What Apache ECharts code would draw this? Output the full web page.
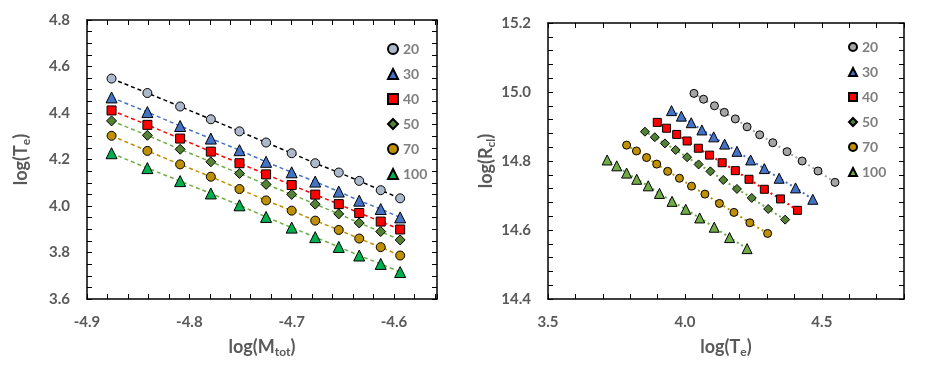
<!DOCTYPE html>
<html>
<head>
<meta charset="utf-8">
<script src="https://cdn.jsdelivr.net/npm/echarts@6/dist/echarts.min.js"></script>
<style>
html,body{margin:0;padding:0;background:#fff;}
#chart{width:926px;height:369px;}
</style>
</head>
<body>
<div id="chart"></div>
<script>
// ---- data ----
const seriesNames = ['20', '30', '40', '50', '70', '100'];
const logM = [-4.876, -4.841, -4.809, -4.779, -4.751, -4.725, -4.700, -4.677, -4.654, -4.634, -4.613, -4.594];

const logTe20  = [4.548, 4.486, 4.428, 4.373, 4.321, 4.273, 4.227, 4.184, 4.144, 4.108, 4.068, 4.033];
const logTe30  = [4.467, 4.404, 4.344, 4.290, 4.240, 4.190, 4.145, 4.105, 4.062, 4.023, 3.987, 3.951];
const logTe40  = [4.411, 4.349, 4.290, 4.234, 4.184, 4.136, 4.090, 4.049, 4.008, 3.970, 3.933, 3.899];
const logTe50  = [4.366, 4.304, 4.244, 4.190, 4.140, 4.093, 4.050, 4.008, 3.966, 3.927, 3.890, 3.854];
const logTe70  = [4.302, 4.237, 4.179, 4.126, 4.073, 4.024, 3.980, 3.937, 3.897, 3.860, 3.823, 3.787];
const logTe100 = [4.227, 4.163, 4.107, 4.054, 4.003, 3.953, 3.907, 3.866, 3.824, 3.787, 3.751, 3.716];

const logRcl20  = [14.738, 14.771, 14.800, 14.827, 14.853, 14.876, 14.899, 14.922, 14.941, 14.960, 14.979, 14.996];
const logRcl30  = [14.689, 14.722, 14.750, 14.778, 14.803, 14.828, 14.849, 14.870, 14.890, 14.911, 14.930, 14.946];
const logRcl40  = [14.657, 14.690, 14.718, 14.747, 14.772, 14.795, 14.817, 14.837, 14.858, 14.877, 14.895, 14.912];
const logRcl50  = [14.630, 14.661, 14.693, 14.719, 14.745, 14.770, 14.790, 14.811, 14.832, 14.851, 14.869, 14.885];
const logRcl70  = [14.590, 14.621, 14.651, 14.677, 14.704, 14.727, 14.750, 14.770, 14.791, 14.810, 14.829, 14.846];
const logRcl100 = [14.546, 14.578, 14.608, 14.635, 14.660, 14.683, 14.706, 14.728, 14.747, 14.765, 14.786, 14.803];

const logTeAll = [logTe20, logTe30, logTe40, logTe50, logTe70, logTe100];
const logRclAll = [logRcl20, logRcl30, logRcl40, logRcl50, logRcl70, logRcl100];

// ---- styles ----
const symbols = ['circle', 'triangle', 'rect', 'diamond', 'circle', 'triangle'];
const leftFill  = ['#ADB9CA', '#4472C4', '#FF0000', '#548235', '#BF9000', '#00B050'];
const leftLine  = ['#000000', '#4472C4', '#FF0000', '#70AD47', '#BF9000', '#70AD47'];
const rightFill = ['#A5A5A5', '#4472C4', '#FF0000', '#548235', '#BF9000', '#70AD47'];
const rightLine = ['#A5A5A5', '#4472C4', '#FF0000', '#70AD47', '#BF9000', '#70AD47'];
const leftSize  = [9, 11, 9, 10, 9, 11];
const rightSize = [8, 10, 8, 9, 8, 10];

const FONT = 'Lato, "Open Sans", sans-serif';
const GRAY = '#595959';

function isMult(v, step) {
  const r = v / step;
  return Math.abs(r - Math.round(r)) < 1e-6;
}
function lbl(step, dec) {
  return function (v) { return isMult(v, step) ? v.toFixed(dec) : ''; };
}

function frameAxes(gridIndex, kind, min, max, interval, labelStep, dec, name, nameGap) {
  const common = {
    type: 'value', gridIndex: gridIndex, min: min, max: max, interval: interval,
    splitLine: { show: false },
    axisLine: { show: true, onZero: false, lineStyle: { color: '#000', width: 1.5 } },
    axisTick: { show: true, inside: true, length: 5, lineStyle: { color: '#000', width: 1 } }
  };
  const main = Object.assign({}, common, {
    position: kind === 'x' ? 'bottom' : 'left',
    axisLabel: {
      show: true, formatter: lbl(labelStep, dec), color: GRAY, fontSize: 15,
      fontWeight: 'bold', fontFamily: FONT, margin: kind === 'x' ? 16 : 17,
      showMinLabel: true, showMaxLabel: true
    },
    name: name, nameLocation: 'middle', nameGap: nameGap,
    nameTextStyle: {
      color: GRAY, fontSize: 18, fontWeight: 'bold', fontFamily: FONT,
      rich: { s: { fontSize: 12, fontWeight: 'bold', fontFamily: FONT, color: GRAY, padding: [10, 0, 0, 0] } }
    }
  });
  const mirror = Object.assign({}, common, {
    position: kind === 'x' ? 'top' : 'right',
    axisLabel: { show: false }
  });
  return [main, mirror];
}

const xL = frameAxes(0, 'x', -4.9, -4.558, 0.02, 0.1, 1, 'log(M{s|tot})', 37);
const yL = frameAxes(0, 'y', 3.6, 4.8, 0.05, 0.2, 1, 'log(T{s|e})', 55);
const xR = frameAxes(1, 'x', 3.5, 4.8, 0.1, 0.5, 1, 'log(T{s|e})', 37);
const yR = frameAxes(1, 'y', 14.4, 15.2, 0.04, 0.2, 1, 'log(R{s|cl})', 47);

const series = [];
seriesNames.forEach(function (n, i) {
  series.push({
    name: n, type: 'line', xAxisIndex: 0, yAxisIndex: 0,
    data: logM.map(function (m, k) { return [m, logTeAll[i][k]]; }),
    symbol: symbols[i], symbolSize: leftSize[i],
    itemStyle: { color: leftFill[i], borderColor: '#000', borderWidth: 1 },
    lineStyle: { color: leftLine[i], width: 1.5, type: [4, 3] },
    showAllSymbol: true, animation: false, z: 2
  });
});
seriesNames.forEach(function (n, i) {
  series.push({
    name: n + ' ', type: 'line', xAxisIndex: 2, yAxisIndex: 2,
    data: logTeAll[i].map(function (t, k) { return [t, logRclAll[i][k]]; }),
    symbol: symbols[i], symbolSize: rightSize[i],
    itemStyle: { color: rightFill[i], borderColor: '#000', borderWidth: 1 },
    lineStyle: { color: rightLine[i], width: 2, type: [2, 3] },
    showAllSymbol: true, animation: false, z: 2
  });
});

const legendText = { color: '#7F7F7F', fontSize: 14, fontWeight: 'bold', fontFamily: FONT };

const option = {
  animation: false,
  backgroundColor: '#fff',
  grid: [
    { left: 87, top: 20, width: 350, height: 279 },
    { left: 548, top: 23, width: 356, height: 276 }
  ],
  xAxis: [xL[0], xL[1], xR[0], xR[1]],
  yAxis: [yL[0], yL[1], yR[0], yR[1]],
  legend: [
    {
      orient: 'vertical', left: 387, top: 42, padding: 0, itemWidth: 10, itemHeight: 10, itemGap: 11,
      formatter: function (n) { return n.trim(); },
      textStyle: legendText,
      data: seriesNames.map(function (n, i) { return { name: n, icon: symbols[i] }; }),
      selectedMode: false
    },
    {
      orient: 'vertical', left: 848, top: 40, padding: 0, itemWidth: 8, itemHeight: 8, itemGap: 11,
      formatter: function (n) { return n.trim(); },
      textStyle: legendText,
      data: seriesNames.map(function (n, i) { return { name: n + ' ', icon: symbols[i] }; }),
      selectedMode: false
    }
  ],
  series: series
};

const chart = echarts.init(document.getElementById('chart'), null, { renderer: 'canvas' });
chart.setOption(option);
</script>
</body>
</html>
